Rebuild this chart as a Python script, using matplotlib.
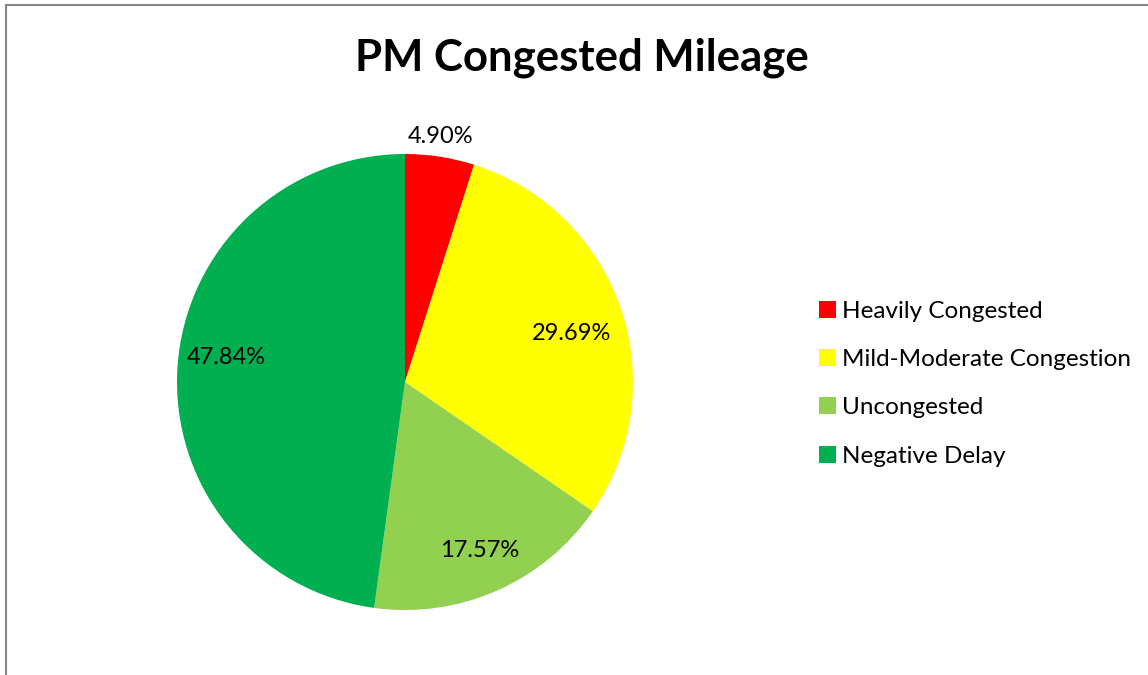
import matplotlib.pyplot as plt
from matplotlib.patches import Rectangle
import numpy as np

# PM congested mileage shares (%)
categories = ['Heavily Congested', 'Mild-Moderate Congestion', 'Uncongested', 'Negative Delay']
shares = [4.90, 29.69, 17.57, 47.84]
colors = ['#FF0000', '#FFFF00', '#92D050', '#00B050']

# label placement (radius fraction, angle nudge in degrees) - Excel "best fit" look
label_dist = [1.09, 0.76, 0.81, 0.79]
label_nudge = [0.5, -2.5, 0.0, -4.0]

plt.rcParams['font.family'] = ['Lato', 'DejaVu Sans']

W, H = 1148, 675
fig = plt.figure(figsize=(W / 100, H / 100), dpi=100)

# chart border (cropped on right and bottom)
fig.patches.append(Rectangle((6 / W, -0.1), 1.2, 1 - 5 / H + 0.1, transform=fig.transFigure,
                             fill=False, edgecolor='#878787', linewidth=1.5))

fig.text(582 / W, 1 - 58 / H, 'PM Congested Mileage', ha='center', va='center',
         fontsize=31.5, fontweight='bold')

# pie area
ax = fig.add_axes([177 / W, 1 - 610 / H, 456 / W, 456 / H])
wedges, _ = ax.pie(shares, colors=colors, startangle=90, counterclock=False,
                   wedgeprops=dict(linewidth=0))
ax.set_xlim(-1, 1)
ax.set_ylim(-1, 1)
ax.set_aspect('equal')
ax.axis('off')

for w, val, d, nd in zip(wedges, shares, label_dist, label_nudge):
    mid = np.deg2rad((w.theta1 + w.theta2) / 2 + nd)
    ax.text(d * np.cos(mid), d * np.sin(mid), f'{val:.2f}%', ha='center', va='center',
            fontsize=17, clip_on=False)

fig.legend(wedges, categories, loc='upper left', bbox_to_anchor=(797 / W, 1 - 279 / H),
           frameon=False, fontsize=17.5, handlelength=0.7, handleheight=0.7,
           handletextpad=0.25, labelspacing=1.12)

fig.savefig('out.png', dpi=100)
